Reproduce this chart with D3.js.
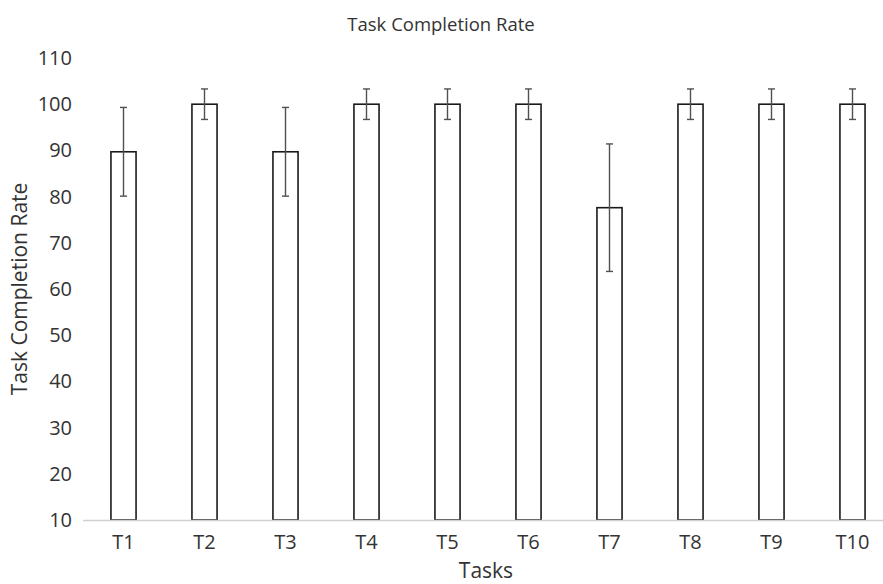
<!DOCTYPE html>
<html>
<head>
<meta charset="utf-8">
<script src="https://cdn.jsdelivr.net/npm/d3@7/dist/d3.min.js"></script>
<style>
  html, body { margin: 0; padding: 0; background: #fff; }
  svg { display: block; }
  text { font-family: "Open Sans", "Liberation Sans", sans-serif; fill: #333333; }
</style>
</head>
<body>
<svg id="chart" width="883" height="584"></svg>
<script>
const tasks = ["T1", "T2", "T3", "T4", "T5", "T6", "T7", "T8", "T9", "T10"];
const rates = [89.7, 100, 89.7, 100, 100, 100, 77.6, 100, 100, 100];
const errors = [9.6, 3.3, 9.6, 3.3, 3.3, 3.3, 13.8, 3.3, 3.3, 3.3];
const yTicks = [10, 20, 30, 40, 50, 60, 70, 80, 90, 100, 110];

(function () {
const svg = d3.select("#chart");
const W = 883, H = 584;
const mLeft = 83, mRight = 893, mTop = 58, mBottom = 520;

const x = d3.scaleBand().domain(tasks).range([mLeft, mRight]).paddingInner(0.69).paddingOuter(0.345);
const y = d3.scaleLinear().domain([10, 110]).range([mBottom, mTop]);

// Title
svg.append("text").attr("x", 441).attr("y", 31).attr("text-anchor", "middle")
  .style("font-size", "18.5px").text("Task Completion Rate");

// Y axis (labels only)
const yAxis = svg.append("g").attr("transform", `translate(${mLeft},0)`)
  .call(d3.axisLeft(y).tickValues(yTicks).tickSize(0).tickPadding(11));
yAxis.select(".domain").remove();
yAxis.selectAll("text").style("font-size", "20px").style("font-family", "'Open Sans', sans-serif").attr("fill", "#333333");

// Bars
const data = tasks.map((t, i) => ({ t, v: rates[i], e: errors[i] }));
svg.append("g").selectAll("rect").data(data).join("rect")
  .attr("x", d => x(d.t))
  .attr("y", d => y(d.v))
  .attr("width", x.bandwidth())
  .attr("height", d => y(10) - y(d.v))
  .attr("fill", "#fff")
  .attr("stroke", "#1a1a1a")
  .attr("stroke-width", 1.6);

// X axis
const xAxis = svg.append("g").attr("transform", `translate(0,${mBottom})`)
  .call(d3.axisBottom(x).tickSize(0).tickPadding(15));
xAxis.select(".domain").attr("stroke", "#d0d0d0").attr("stroke-width", 1.3)
  .attr("d", `M${mLeft},0.5H${W}`);
xAxis.selectAll("text").style("font-size", "20px").style("font-family", "'Open Sans', sans-serif").attr("fill", "#333333");

// Error bars
const eb = svg.append("g").attr("stroke", "#505050").attr("stroke-width", 1.4);
const cx = d => x(d.t) + x.bandwidth() / 2;
eb.selectAll("line.v").data(data).join("line").attr("class", "v")
  .attr("x1", cx).attr("x2", cx)
  .attr("y1", d => y(d.v + d.e)).attr("y2", d => y(d.v - d.e));
eb.selectAll("line.t").data(data).join("line").attr("class", "t")
  .attr("x1", d => cx(d) - 3.5).attr("x2", d => cx(d) + 3.5)
  .attr("y1", d => y(d.v + d.e)).attr("y2", d => y(d.v + d.e));
eb.selectAll("line.b").data(data).join("line").attr("class", "b")
  .attr("x1", d => cx(d) - 3.5).attr("x2", d => cx(d) + 3.5)
  .attr("y1", d => y(d.v - d.e)).attr("y2", d => y(d.v - d.e));

// Axis titles
svg.append("text").attr("x", 486).attr("y", 578).attr("text-anchor", "middle")
  .style("font-size", "21px").text("Tasks");
svg.append("text").attr("transform", "translate(27,289) rotate(-90)").attr("text-anchor", "middle")
  .style("font-size", "21px").text("Task Completion Rate");
})();
</script>
</body>
</html>
